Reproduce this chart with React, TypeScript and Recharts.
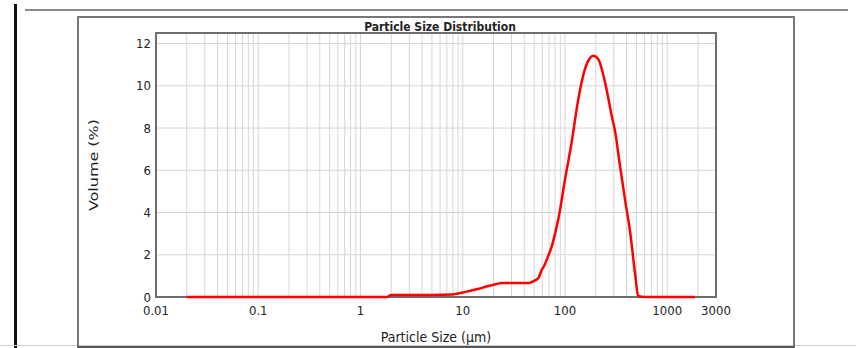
import { LineChart, Line, XAxis, YAxis, CartesianGrid, ReferenceArea, Label } from 'recharts';

// particle size (µm) and volume (%)
const sizes = [
  0.02, 0.05, 0.1, 0.3, 1, 1.8, 2.0, 3, 5, 8, 9.8, 12, 14.4, 17, 20.9, 24, 30, 38, 44, 51, 55, 59, 63,
  68, 74, 80, 87, 100, 116, 135, 157, 175, 189, 212, 247, 286, 310, 346, 387, 436, 485, 520, 600, 1000, 1870,
];
const volumes = [
  0, 0, 0, 0, 0, 0, 0.1, 0.1, 0.1, 0.12, 0.2, 0.3, 0.39, 0.5, 0.6, 0.66, 0.66, 0.66, 0.66, 0.79, 0.9, 1.26, 1.5,
  1.9, 2.37, 3.0, 3.8, 5.55, 7.3, 9.36, 10.8, 11.3, 11.42, 11.26, 10.15, 8.6, 7.8, 6.18, 4.6, 3.0, 1.1, 0.05, 0, 0, 0,
];

const xTicks = [0.01, 0.1, 1, 10, 100, 1000, 3000];
const yTicks = [0, 2, 4, 6, 8, 10, 12];
const decades = [0.01, 0.1, 1, 10, 100, 1000];

const data = sizes.map((s, i) => ({ size: s, volume: volumes[i] }));

// log grid: 1..9 in each decade
const gridX: number[] = [];
decades.forEach((d) => {
  for (let m = 1; m <= 9; m++) {
    const v = +(d * m).toPrecision(3);
    if (v <= 3000) gridX.push(v);
  }
});

const font = '"DejaVu Sans Condensed", "DejaVu Sans", sans-serif';

export default function App() {
  return (
    <div style={{ position: 'absolute', left: 0, top: 0, width: 856, height: 348, background: '#fff', fontFamily: font }}>
      {/* page decorations */}
      <div style={{ position: 'absolute', left: 14, top: 4, width: 3, height: 344, background: '#111' }} />
      <div style={{ position: 'absolute', left: 25, top: 9, width: 823, height: 2, background: '#8a8a8a' }} />
      <div style={{ position: 'absolute', left: 0, top: 345, width: 856, height: 1, background: '#cfcfcf' }} />
      <div
        style={{
          position: 'absolute',
          left: 77,
          top: 16,
          width: 714,
          height: 328,
          border: '2px solid #777',
          borderBottomColor: '#555',
        }}
      />
      <div
        style={{
          position: 'absolute',
          left: 340,
          top: 20,
          width: 200,
          textAlign: 'center',
          fontWeight: 'bold',
          fontSize: 12,
          color: '#222',
          lineHeight: '14px',
        }}
      >
        Particle Size Distribution
      </div>

      <div style={{ position: 'absolute', left: 0, top: 0 }}>
        <LineChart width={856} height={348} data={data} margin={{ top: 33, right: 140, bottom: 21, left: 116 }}>
          <CartesianGrid stroke="#d6d6d6" strokeWidth={1} verticalValues={gridX} horizontalValues={yTicks} />
          <XAxis
            dataKey="size"
            type="number"
            scale="log"
            domain={[0.01, 3000]}
            ticks={xTicks}
            interval={0}
            allowDataOverflow
            height={30}
            axisLine={false}
            tickLine={false}
            tickSize={0}
            tickMargin={9}
            tick={{ fill: '#222', fontSize: 13, fontFamily: font }}
          >
            <Label
              content={({ viewBox }: any) => (
                <text
                  x={viewBox.x + viewBox.width / 2}
                  y={viewBox.y + 40}
                  textAnchor="middle"
                  dominantBaseline="central"
                  fill="#222"
                  fontSize={14}
                  fontFamily={font}
                >
                  Particle Size (µm)
                </text>
              )}
            />
          </XAxis>
          <YAxis
            type="number"
            domain={[0, 12.5]}
            ticks={yTicks}
            interval={0}
            width={40}
            axisLine={false}
            tickLine={false}
            tickSize={0}
            tickMargin={5}
            tick={{ fill: '#222', fontSize: 13, fontFamily: font }}
          >
            <Label
              content={({ viewBox }: any) => {
                const cx = viewBox.x - 23;
                const cy = viewBox.y + viewBox.height / 2;
                return (
                  <text
                    x={cx}
                    y={cy}
                    transform={`rotate(-90, ${cx}, ${cy})`}
                    textAnchor="middle"
                    dominantBaseline="central"
                    fill="#222"
                    fontSize={13}
                    fontFamily={font}
                    textLength={92}
                    lengthAdjust="spacingAndGlyphs"
                  >
                    Volume (%)
                  </text>
                );
              }}
            />
          </YAxis>
          <ReferenceArea
            x1={0.01}
            x2={3000}
            y1={0}
            y2={12.5}
            fill="none"
            stroke="#6e6e6e"
            strokeWidth={2}
            ifOverflow="visible"
          />
          <Line
            type="monotone"
            dataKey="volume"
            stroke="#ff0000"
            strokeWidth={2.5}
            dot={false}
            isAnimationActive={false}
          />
        </LineChart>
      </div>
    </div>
  );
}
